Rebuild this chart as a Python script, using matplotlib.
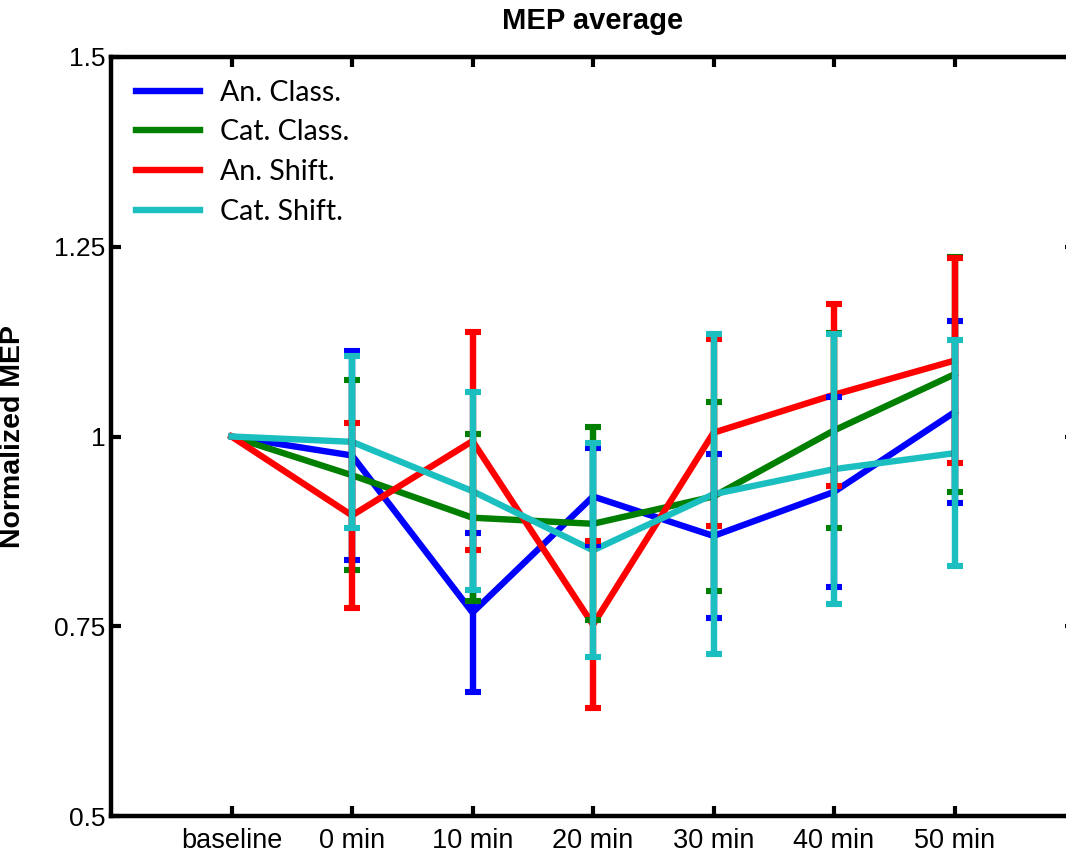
import matplotlib
matplotlib.use("Agg")
import matplotlib.pyplot as plt
import numpy as np

categories = ["baseline", "0 min", "10 min", "20 min", "30 min", "40 min", "50 min"]
series_names = ["An. Class.", "Cat. Class.", "An. Shift.", "Cat. Shift."]

an_class_mean = [1.0, 0.975, 0.768, 0.921, 0.869, 0.927, 1.032]
an_class_err = [0.0, 0.138, 0.105, 0.064, 0.108, 0.125, 0.120]
cat_class_mean = [1.0, 0.949, 0.893, 0.885, 0.921, 1.008, 1.082]
cat_class_err = [0.0, 0.125, 0.110, 0.127, 0.124, 0.128, 0.155]
an_shift_mean = [1.0, 0.896, 0.994, 0.752, 1.005, 1.055, 1.100]
an_shift_err = [0.0, 0.122, 0.144, 0.110, 0.123, 0.120, 0.135]
cat_shift_mean = [1.0, 0.993, 0.928, 0.850, 0.924, 0.957, 0.978]
cat_shift_err = [0.0, 0.113, 0.130, 0.141, 0.211, 0.178, 0.149]

colors = ["#0000FF", "#007F00", "#FF0000", "#1CBFBF"]
means = [an_class_mean, cat_class_mean, an_shift_mean, cat_shift_mean]
errs = [an_class_err, cat_class_err, an_shift_err, cat_shift_err]

y_ticks = [0.5, 0.75, 1.0, 1.25, 1.5]
y_ticklabels = ["0.5", "0.75", "1", "1.25", "1.5"]

fig = plt.figure(figsize=(10.66, 8.61), dpi=100)
ax = fig.add_axes([111 / 1066, 45 / 861, 964 / 1066, 759 / 861])

x = np.arange(1, len(categories) + 1)
handles = []
for m, e, c, name in zip(means, errs, colors, series_names):
    ln, = ax.plot(x, m, color=c, lw=4.6, label=name, solid_joinstyle="miter")
    handles.append(ln)
for m, e, c in zip(means, errs, colors):
    ax.errorbar(x[1:], m[1:], yerr=e[1:], fmt="none", ecolor=c,
                elinewidth=4.6, capsize=5.5, capthick=4.4)

ax.set_xlim(0, 8)
ax.set_ylim(0.5, 1.5)
ax.set_xticks(x)
ax.set_xticklabels(categories, fontsize=19.5, family="Liberation Sans")
ax.set_yticks(y_ticks)
ax.set_yticklabels(y_ticklabels, fontsize=19, family="Liberation Sans")
ax.tick_params(direction="in", length=7, width=3, top=True, right=True,
               colors="black")
ax.tick_params(axis="y", pad=4)
ax.tick_params(axis="x", pad=9)
for s in ax.spines.values():
    s.set_linewidth(3.2)

ax.set_ylabel("Normalized MEP", fontsize=20.5, fontweight="bold",
              family="Liberation Sans")
ax.yaxis.set_label_coords(-0.088, 0.5)
ax.set_title("MEP average", fontsize=21, fontweight="bold",
             family="Liberation Sans", pad=20)

leg = ax.legend(handles=handles, loc="upper left", bbox_to_anchor=(0.026, 0.970),
                frameon=False, prop={"family": "Lato", "size": 20.5},
                handlelength=2.25, handletextpad=0.7, labelspacing=0.48,
                borderpad=0, borderaxespad=0)

fig.savefig("out.png", dpi=100)
